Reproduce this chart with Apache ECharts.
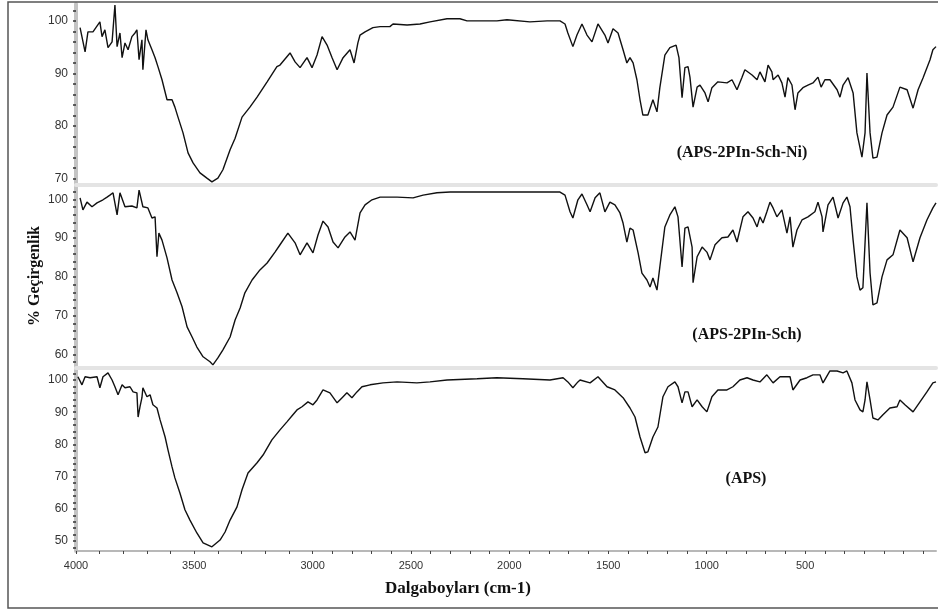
<!DOCTYPE html>
<html>
<head>
<meta charset="utf-8">
<script src="https://cdn.jsdelivr.net/npm/echarts@6/dist/echarts.min.js"></script>
<style>
html,body{margin:0;padding:0;background:#fff;}
#chart{width:938px;height:612px;}
</style>
</head>
<body>
<div id="chart"></div>
<script>
// ---- data ----
const xTickValues = [4000, 3505, 3009, 2598, 2186, 1772, 1360, 948];
const xTickLabels = ['4000', '3500', '3000', '2500', '2000', '1500', '1000', '500'];
const seriesNames = ['(APS-2PIn-Sch-Ni)', '(APS-2PIn-Sch)', '(APS)'];
const topYLabels = [70, 80, 90, 100];
const midYLabels = [60, 70, 80, 90, 100];
const botYLabels = [50, 60, 70, 80, 90, 100];

const niComplex = [
[3983,98.7],[3962,94.1],[3950,97.9],[3929,97.9],[3900,99.8],[3891,97.0],[3879,98.3],[3866,94.9],[3849,96.0],[3837,103.0],
[3828,95.1],[3816,97.7],[3807,93.0],[3795,95.8],[3782,94.5],[3766,97.0],[3753,97.7],[3745,98.3],[3736,92.6],[3724,96.4],
[3720,90.7],[3707,98.3],[3699,96.4],[3682,94.5],[3669,93.0],[3657,91.3],[3640,88.8],[3619,85.0],[3598,85.0],[3586,83.6],
[3573,81.7],[3552,78.7],[3531,74.9],[3510,73.0],[3481,71.1],[3452,70.1],[3431,69.4],[3406,70.1],[3385,71.7],[3355,75.5],
[3334,77.7],[3305,81.7],[3272,83.6],[3242,85.5],[3200,88.4],[3159,91.3],[3146,91.6],[3104,93.9],[3083,92.2],[3062,91.1],
[3033,93.0],[3012,91.1],[2991,93.5],[2970,97.0],[2949,95.4],[2928,93.0],[2907,90.7],[2882,93.0],[2853,94.5],[2836,92.0],
[2820,95.8],[2811,97.3],[2790,97.9],[2757,98.7],[2727,98.9],[2686,98.9],[2673,99.4],[2614,99.2],[2560,99.4],[2518,99.8],
[2447,100.4],[2393,100.4],[2363,100.0],[2238,100.0],[2196,100.2],[2100,99.8],[2028,100.0],[1974,100.0],[1953,99.4],[1941,97.7],
[1920,95.1],[1903,97.3],[1882,99.4],[1861,97.3],[1840,96.0],[1815,99.4],[1786,97.3],[1773,95.8],[1752,98.5],[1731,97.7],
[1710,94.5],[1694,92.0],[1681,93.0],[1668,92.0],[1652,88.8],[1639,85.0],[1627,82.1],[1606,82.1],[1585,85.0],[1568,82.7],
[1556,87.3],[1535,93.5],[1514,94.9],[1488,95.4],[1476,93.0],[1463,85.4],[1451,91.1],[1438,91.3],[1430,89.3],[1417,83.6],
[1400,87.4],[1388,87.8],[1367,86.3],[1354,84.6],[1338,87.3],[1313,88.4],[1275,88.2],[1254,88.8],[1233,86.9],[1212,89.3],
[1200,90.7],[1170,89.7],[1149,88.8],[1137,90.3],[1116,88.4],[1103,91.6],[1087,90.3],[1082,88.8],[1061,89.7],[1045,88.2],
[1032,85.5],[1020,89.2],[1003,87.8],[990,83.1],[978,86.3],[957,87.3],[936,87.8],[915,88.2],[894,89.3],[881,87.4],
[865,88.8],[844,88.8],[814,86.9],[802,85.5],[789,87.8],[768,89.2],[747,86.3],[731,78.7],[710,74.1],[697,78.7],
[689,90.1],[685,90.3],[676,78.7],[664,73.9],[647,74.1],[626,78.7],[605,82.1],[580,83.6],[551,87.4],[521,86.9],
[496,83.4],[475,86.9],[454,89.2],[425,92.6],[413,94.5],[400,95.1]
];

const schiffBase = [
[3983,100.4],[3971,97.3],[3954,99.3],[3933,98.1],[3912,99.1],[3887,99.9],[3870,100.6],[3858,101.1],[3845,101.7],[3828,96.0],
[3816,101.7],[3795,98.1],[3766,98.3],[3745,97.8],[3736,102.4],[3720,98.1],[3699,97.8],[3682,95.2],[3669,95.5],[3661,85.2],
[3653,91.3],[3640,89.5],[3619,84.9],[3598,79.2],[3577,75.9],[3556,72.3],[3535,67.1],[3514,64.5],[3494,61.9],[3468,59.4],
[3439,58.1],[3427,57.3],[3406,59.1],[3385,61.2],[3355,64.5],[3334,68.9],[3313,72.0],[3293,75.9],[3263,79.2],[3230,81.8],
[3200,83.6],[3167,86.4],[3146,88.3],[3113,91.3],[3083,88.8],[3062,85.7],[3033,88.8],[3008,86.2],[2987,90.8],[2966,94.4],
[2945,92.9],[2924,89.0],[2903,87.5],[2874,90.3],[2853,91.6],[2832,89.5],[2811,96.5],[2790,98.6],[2761,99.9],[2727,100.6],
[2656,100.6],[2589,100.4],[2547,101.1],[2489,101.7],[2434,101.9],[2309,101.9],[2171,101.9],[2028,101.9],[1974,101.9],[1953,101.1],
[1932,96.8],[1920,95.2],[1899,99.9],[1882,101.4],[1861,98.6],[1848,96.8],[1827,100.4],[1807,101.7],[1786,96.8],[1765,99.3],
[1744,98.6],[1723,96.5],[1710,93.9],[1694,89.0],[1681,92.6],[1668,92.1],[1647,86.2],[1631,81.0],[1610,79.2],[1597,77.4],
[1585,79.7],[1568,76.6],[1556,82.6],[1535,92.9],[1514,96.0],[1493,98.1],[1480,95.5],[1463,82.6],[1451,92.6],[1438,92.9],
[1421,87.7],[1417,78.5],[1400,85.2],[1379,87.7],[1359,86.4],[1346,84.4],[1325,88.3],[1296,90.1],[1271,90.3],[1250,92.1],
[1233,89.0],[1208,95.5],[1187,96.8],[1166,95.2],[1149,92.9],[1137,95.5],[1124,93.9],[1108,96.8],[1095,99.3],[1082,97.8],
[1066,95.5],[1045,97.3],[1024,91.3],[1011,95.5],[999,87.7],[982,92.1],[961,94.7],[936,95.5],[907,96.8],[894,99.3],
[877,95.5],[873,91.6],[852,98.6],[831,100.6],[810,95.2],[789,99.1],[773,100.6],[760,98.1],[747,89.5],[731,80.0],
[718,76.6],[706,77.2],[689,99.1],[685,99.1],[676,81.0],[664,72.8],[647,73.3],[626,80.0],[605,84.4],[580,85.7],
[551,92.1],[521,90.1],[496,83.9],[467,90.1],[438,94.7],[413,97.8],[400,99.1]
];

const aps = [
[3992,101.0],[3975,98.5],[3962,101.0],[3941,100.7],[3912,101.0],[3900,97.6],[3887,101.0],[3866,102.2],[3849,100.0],[3837,97.9],
[3824,95.4],[3807,98.5],[3795,97.6],[3774,97.9],[3761,96.3],[3745,96.0],[3740,88.5],[3732,91.7],[3724,94.5],[3720,97.6],
[3703,94.8],[3690,95.4],[3678,92.3],[3661,91.3],[3648,87.6],[3627,82.3],[3615,78.3],[3598,73.0],[3586,69.6],[3565,64.9],
[3544,59.7],[3523,56.5],[3494,52.5],[3468,49.4],[3431,48.2],[3397,50.3],[3376,52.8],[3355,56.5],[3326,60.6],[3305,65.9],
[3280,71.1],[3242,74.3],[3217,76.7],[3180,81.4],[3146,84.5],[3117,87.0],[3092,89.2],[3075,90.7],[3054,91.7],[3029,93.2],
[3008,92.3],[2991,93.8],[2966,96.9],[2937,96.0],[2907,92.9],[2886,94.5],[2866,96.0],[2845,94.5],[2824,96.3],[2803,97.9],
[2769,98.5],[2715,99.1],[2656,99.4],[2573,99.1],[2518,99.4],[2447,100.0],[2321,100.4],[2238,100.7],[2129,100.4],[2016,100.0],
[1961,100.7],[1941,99.4],[1920,97.6],[1899,99.4],[1890,100.0],[1848,99.1],[1815,101.0],[1777,97.9],[1744,96.9],[1710,94.5],
[1681,91.3],[1660,88.5],[1639,82.3],[1618,77.4],[1606,77.7],[1585,82.3],[1564,85.4],[1543,94.8],[1522,97.9],[1493,99.4],
[1480,97.9],[1463,92.9],[1451,96.3],[1438,96.3],[1421,91.7],[1400,93.8],[1379,91.7],[1359,90.1],[1338,94.8],[1313,96.9],
[1275,96.9],[1250,97.9],[1221,100.0],[1191,100.7],[1166,100.0],[1137,99.4],[1108,101.6],[1082,99.1],[1053,101.0],[1011,101.0],
[999,96.9],[969,100.0],[940,100.7],[915,101.6],[886,101.6],[873,99.1],[844,102.8],[814,102.8],[789,102.2],[773,102.8],
[752,99.1],[739,93.8],[718,90.7],[706,90.1],[697,93.8],[689,99.4],[676,93.8],[664,88.2],[643,87.6],[622,89.2],
[593,91.3],[563,91.7],[551,93.8],[530,92.3],[496,90.1],[467,93.2],[438,96.3],[413,99.1],[400,99.4]
];

// ---- helpers for axes ----
function minorTicks(majors) {
  const out = [];
  for (let i = 0; i < majors.length - 1; i++) {
    const a = majors[i], b = majors[i + 1];
    for (let k = 0; k < 5; k++) out.push(a + (b - a) * k / 5);
  }
  out.push(majors[majors.length - 1]);
  // ticks beyond last major on the right
  const step = (majors[majors.length - 2] - majors[majors.length - 1]) / 5;
  for (let v = majors[majors.length - 1] - step; v > 400; v -= step) out.push(v);
  return out;
}
function yTicks(min, max) {
  const out = [];
  for (let v = Math.ceil(min / 2) * 2; v <= max; v += 2) out.push(v);
  return out;
}
function xLabel(v) {
  let best = 0, d = Infinity;
  xTickValues.forEach((t, i) => { if (Math.abs(t - v) < d) { d = Math.abs(t - v); best = i; } });
  return xTickLabels[best];
}

const panels = [
  { data: niComplex, top: 4, min: 68.8, max: 103.2, labels: topYLabels },
  { data: schiffBase, top: 187, min: 56.5, max: 103.2, labels: midYLabels },
  { data: aps, top: 370, min: 46.9, max: 103.1, labels: botYLabels }
];
const H = 181;

const chart = echarts.init(document.getElementById('chart'), null, { renderer: 'canvas' });
const option = {
  animation: false,
  backgroundColor: '#ffffff',
  grid: panels.map(p => ({ left: 76, width: 860, top: p.top, height: H })),
  xAxis: panels.map((p, i) => ({
    gridIndex: i,
    type: 'value',
    min: 400,
    max: 4000,
    inverse: true,
    splitLine: { show: false },
    axisLine: {
      show: true, onZero: false,
      lineStyle: i < 2 ? { color: '#e4e4e4', width: 4 } : { color: '#b8b8b8', width: 2 }
    },
    axisTick: i < 2 ? { show: false } : {
      show: true, customValues: minorTicks(xTickValues), length: 3,
      lineStyle: { color: '#444', width: 1 }
    },
    axisLabel: i < 2 ? { show: false } : {
      show: true, customValues: xTickValues, formatter: xLabel,
      color: '#333', fontSize: 11, fontFamily: 'Liberation Sans, Arial, sans-serif', margin: 9
    }
  })),
  yAxis: panels.map((p, i) => ({
    gridIndex: i,
    type: 'value',
    min: p.min,
    max: p.max,
    splitLine: { show: false },
    axisLine: { show: true, onZero: false, lineStyle: { color: '#c4c4c4', width: 4 } },
    axisTick: { show: true, customValues: yTicks(p.min, p.max), length: 3, inside: false, lineStyle: { color: '#333', width: 1.5 } },
    axisLabel: {
      show: true, customValues: p.labels, color: '#333', fontSize: 12,
      fontFamily: 'Liberation Sans, Arial, sans-serif', margin: 8
    }
  })),
  series: panels.map((p, i) => ({
    name: seriesNames[i],
    type: 'line',
    xAxisIndex: i,
    yAxisIndex: i,
    data: p.data,
    showSymbol: false,
    symbol: 'none',
    lineStyle: { color: '#111', width: 1.4 },
    clip: true
  })),
  graphic: [
    { type: 'rect', shape: { x: 8, y: 2, width: 960, height: 606 }, style: { fill: 'none', stroke: '#555', lineWidth: 1.5 }, z: 100 },
    { type: 'text', x: 742, y: 153, style: { text: seriesNames[0], fill: '#111', font: 'bold 16px "Liberation Serif", serif', align: 'center', verticalAlign: 'middle' } },
    { type: 'text', x: 747, y: 335, style: { text: seriesNames[1], fill: '#111', font: 'bold 16px "Liberation Serif", serif', align: 'center', verticalAlign: 'middle' } },
    { type: 'text', x: 746, y: 479, style: { text: seriesNames[2], fill: '#111', font: 'bold 16px "Liberation Serif", serif', align: 'center', verticalAlign: 'middle' } },
    { type: 'text', x: 458, y: 589, style: { text: 'Dalgaboyları (cm-1)', fill: '#111', font: 'bold 17px "Liberation Serif", serif', align: 'center', verticalAlign: 'middle' } },
    { type: 'text', x: 35, y: 276, rotation: Math.PI / 2, style: { text: '% Geçirgenlik', fill: '#111', font: 'bold 16px "Liberation Serif", serif', align: 'center', verticalAlign: 'middle' } }
  ]
};
chart.setOption(option);
</script>
</body>
</html>
